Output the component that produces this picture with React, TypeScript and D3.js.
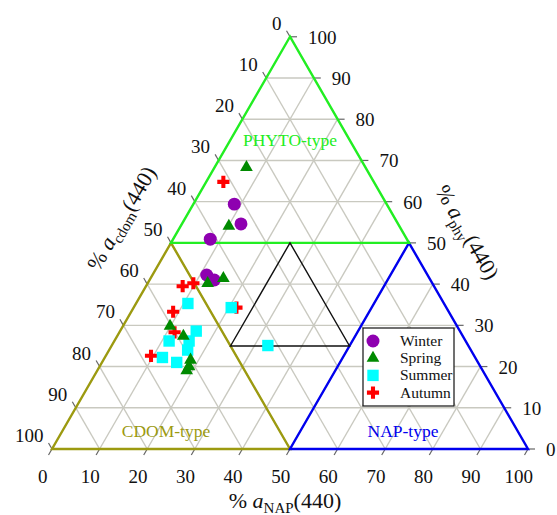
import React from "react";
import * as d3 from "d3";

// Ternary composition of absorption at 440 nm: phy, NAP, cdom (percent)
const seasons = ["Winter", "Spring", "Summer", "Autumn"];
const seasonColors = ["#8e00b0", "#008a00", "#00ffff", "#ff0000"];

// each sample: [phy, nap] (cdom = 100 - phy - nap)
const winter: [number, number][] = [
  [59.4, 8.6], [54.6, 12.4], [50.9, 7.8], [42.2, 11.4], [41.0, 13.6],
];
const spring: [number, number][] = [
  [68.3, 6.7], [54.1, 10.1], [41.4, 15.3], [40.2, 12.6], [29.8, 9.9],
  [27.4, 13.9], [21.6, 18.3], [20.0, 18.8], [19.0, 18.8],
];
const summer: [number, number][] = [
  [35.3, 10.9], [34.3, 20.5], [25.1, 32.8], [28.6, 16.0], [26.2, 11.5],
  [26.2, 15.7], [24.0, 16.5], [22.2, 12.1], [21.0, 15.7],
];
const autumn: [number, number][] = [
  [64.8, 3.6], [39.5, 7.7], [40.2, 9.6], [33.3, 8.8], [34.3, 21.6],
  [28.3, 11.6], [22.6, 9.5],
];

const tickValues = d3.range(0, 101, 10);
const gridValues = d3.range(10, 100, 10);

const W = 557;
const H = 515;
const x0 = 52;
const x1 = 528;
const yBase = 449;
const side = x1 - x0;
const yTop = yBase - side * Math.sqrt(3) / 2;

const xs = d3.scaleLinear().domain([0, 100]).range([x0, x1]);
const ys = d3.scaleLinear().domain([0, 100]).range([yBase, yTop]);

// phy, nap -> screen
function proj(phy: number, nap: number): [number, number] {
  return [xs(nap + phy / 2), ys(phy)];
}

const font = "'Liberation Serif', 'Times New Roman', serif";
const gridColor = "#c9c9c0";
const tickColor = "#666";

const symbolFor = [
  d3.symbol(d3.symbolCircle, 132)(),
  d3.symbol(d3.symbolTriangle, 70)(),
  d3.symbol(d3.symbolSquare, 130)(),
  d3.symbol(d3.symbolCross, 82)(),
];

const line = (pts: [number, number][], close = false) =>
  (d3.line()(pts) as string) + (close ? "Z" : "");

export default function App() {
  // grid lines: constant phy (horizontal), constant nap, constant cdom
  const grid: string[] = [];
  gridValues.forEach((v) => {
    grid.push(line([proj(v, 0), proj(v, 100 - v)]));
    grid.push(line([proj(0, v), proj(100 - v, v)]));
    grid.push(line([proj(0, 100 - v), proj(100 - v, 0)]));
  });

  const phyto = line([proj(100, 0), proj(50, 0), proj(50, 50)], true);
  const cdom = line([proj(0, 0), proj(0, 50), proj(50, 0)], true);
  const nap = line([proj(0, 50), proj(0, 100), proj(50, 50)], true);
  const mixed = line([proj(50, 25), proj(25, 25), proj(25, 50)], true);

  const tl = 7;
  const c60 = Math.cos(Math.PI / 3);
  const s60 = Math.sin(Math.PI / 3);

  const series = [winter, spring, summer, autumn];
  const drawOrder = [3, 2, 0, 1];

  return (
    <svg
      width={W}
      height={H}
      style={{ position: "absolute", left: 0, top: 0, background: "#fff" }}
      fontFamily={font}
    >
      <g stroke={gridColor} strokeWidth={1.4} fill="none">
        {grid.map((d, i) => (
          <path key={i} d={d} />
        ))}
      </g>

      {/* ticks */}
      <g stroke={tickColor} strokeWidth={1.2}>
        {tickValues.map((v) => {
          const [bx, by] = proj(0, v);
          const [lx, ly] = proj(100 - v, 0);
          const [rx, ry] = proj(v, 100 - v);
          return (
            <g key={v}>
              <line x1={bx} y1={by} x2={bx - tl * c60} y2={by + tl * s60} />
              <line x1={lx} y1={ly} x2={lx - tl * c60} y2={ly - tl * s60} />
              <line x1={rx} y1={ry} x2={rx + tl} y2={ry} />
            </g>
          );
        })}
      </g>

      <g fill="none" strokeWidth={2.4} strokeLinejoin="miter">
        <path d={cdom} stroke="#9c9a10" />
        <path d={nap} stroke="#0000ee" />
        <path d={phyto} stroke="#22ee22" />
        <path d={mixed} stroke="#111" strokeWidth={1.4} />
      </g>

      {/* tick labels */}
      <g fontSize={19} fill="#111">
        {tickValues.map((v) => {
          const [bx, by] = proj(0, v);
          const [lx, ly] = proj(100 - v, 0);
          const [rx, ry] = proj(v, 100 - v);
          return (
            <g key={v}>
              <text x={bx - 9.3} y={by + 34} textAnchor="middle">
                {v}
              </text>
              <text x={lx - 8.5} y={ly - 7} textAnchor="end">
                {v}
              </text>
              <text x={rx + 18} y={ry + 7} textAnchor="start">
                {v}
              </text>
            </g>
          );
        })}
      </g>

      {/* region names */}
      <g fontSize={17.5} textAnchor="middle">
        <text x={290} y={146} fill="#22ee22">PHYTO-type</text>
        <text x={166} y={437} fill="#9c9a10">CDOM-type</text>
        <text x={403} y={437} fill="#0000ee">NAP-type</text>
      </g>

      {/* axis titles */}
      <text x={285} y={508} fontSize={22} textAnchor="middle" fill="#111">
        <tspan>% </tspan>
        <tspan fontStyle="italic">a</tspan>
        <tspan fontSize={15} dy={5}>NAP</tspan>
        <tspan dy={-5}>(440)</tspan>
      </text>
      <text
        transform="translate(128,222) rotate(-60)"
        fontSize={22}
        textAnchor="middle"
        fill="#111"
      >
        <tspan>% </tspan>
        <tspan fontStyle="italic">a</tspan>
        <tspan fontSize={15} dy={5}>cdom</tspan>
        <tspan dy={-5}>(440)</tspan>
      </text>
      <text
        transform="translate(461,236) rotate(60)"
        fontSize={22}
        textAnchor="middle"
        fill="#111"
      >
        <tspan>% </tspan>
        <tspan fontStyle="italic">a</tspan>
        <tspan fontSize={15} dy={5}>phy</tspan>
        <tspan dy={-5}>(440)</tspan>
      </text>

      {/* samples */}
      {drawOrder.map((si) => (
        <g key={si} fill={seasonColors[si]}>
          {series[si].map(([p, n], i) => {
            const [px, py] = proj(p, n);
            return (
              <path
                key={i}
                d={symbolFor[si] as string}
                transform={`translate(${px},${py})`}
              />
            );
          })}
        </g>
      ))}

      {/* legend */}
      <g>
        <rect x={363} y={328} width={91} height={78} fill="#fff" stroke="#111" strokeWidth={1.2} />
        {seasons.map((s, i) => {
          const y = 341 + i * 17.2;
          return (
            <g key={s}>
              <path
                d={symbolFor[i] as string}
                transform={`translate(373,${y})`}
                fill={seasonColors[i]}
              />
              <text x={400} y={y + 5} fontSize={15.5} fill="#111">
                {s}
              </text>
            </g>
          );
        })}
      </g>
    </svg>
  );
}
